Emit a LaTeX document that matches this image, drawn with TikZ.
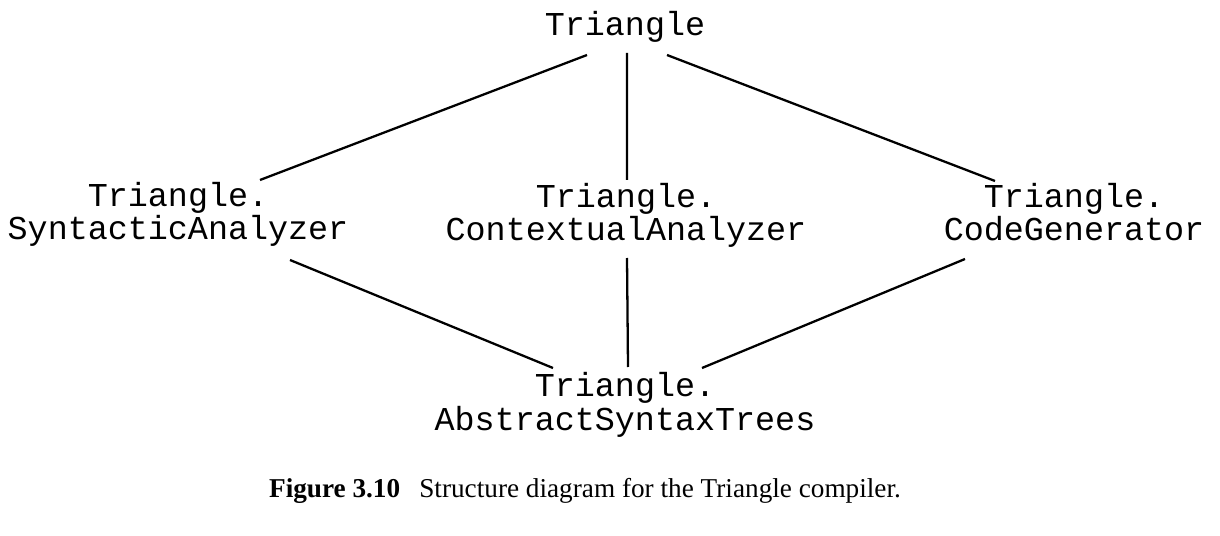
\documentclass[tikz,border=0pt]{standalone}
\usepackage{fontspec}
\setmainfont{Liberation Serif}
\setmonofont{Liberation Mono}
\usetikzlibrary{positioning}

\begin{document}
\begin{tikzpicture}[
        unit/.style={inner sep=0pt, align=center, anchor=base,
            font=\ttfamily\fontsize{19}{19}\selectfont},
        link/.style={line width=1.3pt}]
            \useasboundingbox (0, 0) rectangle (24.4, -10.72);

            \node[unit] (tri) at (12.5, -0.72) {Triangle};
            \node[unit] (syn) at (3.56, -4.8) {Triangle.\\SyntacticAnalyzer};
            \node[unit] (ctx) at (12.52, -4.82) {Triangle.\\ContextualAnalyzer};
            \node[unit] (gen) at (21.48, -4.82) {Triangle.\\CodeGenerator};
            \node[unit] (ast) at (12.5, -8.6) {Triangle.\\AbstractSyntaxTrees};

            \node[inner sep=0pt, anchor=base, font=\fontsize{15.5}{15.5}\selectfont] (cap) at (11.7, -9.94)
                {\textbf{Figure 3.10}\hspace{0.7em}Structure diagram for the Triangle compiler.};

            \draw[link] ([shift={(-0.76, -0.38)}]tri.base) -- ([shift={(1.64, 1.2)}]syn.base);
            \draw[link] ([shift={(0.04, -0.34)}]tri.base) -- ([shift={(0.02, 1.22)}]ctx.base);
            \draw[link] ([shift={(0.84, -0.38)}]tri.base) -- ([shift={(-1.58, 1.2)}]gen.base);
            \draw[link] ([shift={(2.24, -0.4)}]syn.base) -- ([shift={(-1.44, 1.24)}]ast.base);
            \draw[link] ([shift={(0.02, -0.34)}]ctx.base) -- ([shift={(0.06, 1.26)}]ast.base);
            \draw[link] ([shift={(-2.18, -0.36)}]gen.base) -- ([shift={(1.54, 1.24)}]ast.base);
    	\end{tikzpicture}
\end{document}
